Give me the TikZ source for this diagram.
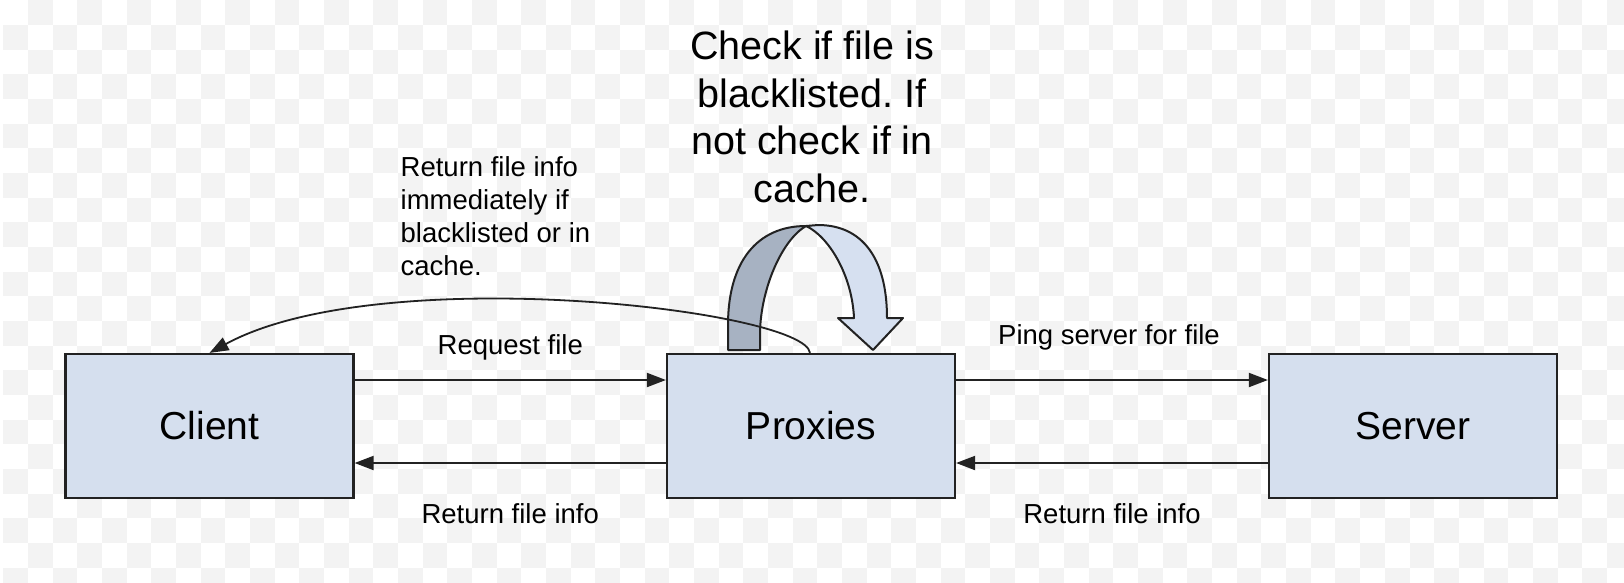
\documentclass[tikz,border=0pt]{standalone}
\usepackage{fontspec}
\setmainfont{Liberation Sans}
\usepackage{xcolor}
\usetikzlibrary{arrows.meta, positioning}
\frenchspacing

\definecolor{boxblue}{HTML}{D5DFEE}
\definecolor{ribbondark}{HTML}{A7B2C2}
\definecolor{ribbonlight}{HTML}{D6E0F0}
\definecolor{checker}{HTML}{F3F3F3}
\definecolor{ink}{HTML}{222222}

\tikzstyle{box} = [rectangle, draw=ink, line width=2.2pt, fill=boxblue, minimum width=288pt, minimum height=144pt, font=\fontsize{39}{47}\selectfont]
\tikzstyle{line} = [draw=ink, line width=1.9pt, -{Triangle[length=19pt, width=14pt]}]
\tikzstyle{edgetext} = [font=\fontsize{27.5}{33}\selectfont, anchor=base, inner sep=0pt]
\tikzstyle{ribbon} = [draw=ink, line width=2pt, line join=round]

\begin{document}
\begin{tikzpicture}[x=1pt, y=-1pt]
    % Background
    \fill[white] (0,0) rectangle (1624,582);
    \useasboundingbox (0,0) rectangle (1624,582);
    \begin{scope}
        \clip (0,0) rectangle (1624,582);
        \foreach \i in {0,...,65} {
            \foreach \j in {0,...,23} {
                \ifodd\numexpr\i+\j\relax
                    \fill[checker] ({3.3+\i*24.67},{0.3+\j*24.67}) rectangle +(24.67,24.67);
                \fi
            }
        }
    \end{scope}

    % Nodes
    \node [box] (client) at (209.5,426) {Client};
    \node [box] (proxies) at (811,426) {Proxies};
    \node [box] (server) at (1413,426) {Server};

    % Notes
    \node [font=\fontsize{39.5}{47.5}\selectfont, align=center, anchor=north, inner sep=0pt] (checknote) at (812,31) {Check if file is\\blacklisted. If\\not check if in\\cache.};
    \node [font=\fontsize{27.5}{33}\selectfont, align=left, anchor=north west, inner sep=0pt] (retnote) at (400.5,156) {Return file info\\immediately if\\blacklisted or in\\cache.};

    % Self loop arrow
    \filldraw [ribbon, fill=ribbondark] (728,350) -- (728,325) .. controls (728,262) and (757,226) .. (806,226)
        .. controls (782,240) and (761,288) .. (760,332) -- (760,350) -- cycle;
    \filldraw [ribbon, fill=ribbonlight] (806,226) .. controls (828,236) and (852,274) .. (854,318)
        -- (838,318) -- (873,350) -- (903,318) -- (887,318)
        .. controls (887,258) and (862,225) .. (818,225) -- cycle;

    % Lines
    \path [line] ([yshift=46pt]client.east) -- node [edgetext, yshift=26pt] {Request file} ([yshift=46pt]proxies.west);
    \path [line] ([yshift=-37pt]proxies.west) -- node [edgetext, yshift=-60pt] {Return file info} ([yshift=-37pt]client.east);
    \path [line] ([yshift=46pt]proxies.east) -- node [edgetext, yshift=36pt, xshift=-3pt] {Ping server for file} ([yshift=46pt]server.west);
    \path [line] ([yshift=-37pt]server.west) -- node [edgetext, yshift=-60pt] {Return file info} ([yshift=-37pt]proxies.east);
    \path [line, line width=1.8pt] ([xshift=-1pt]proxies.north) .. controls (805,310) and (380,260) .. (client.north);
\end{tikzpicture}
\end{document}
